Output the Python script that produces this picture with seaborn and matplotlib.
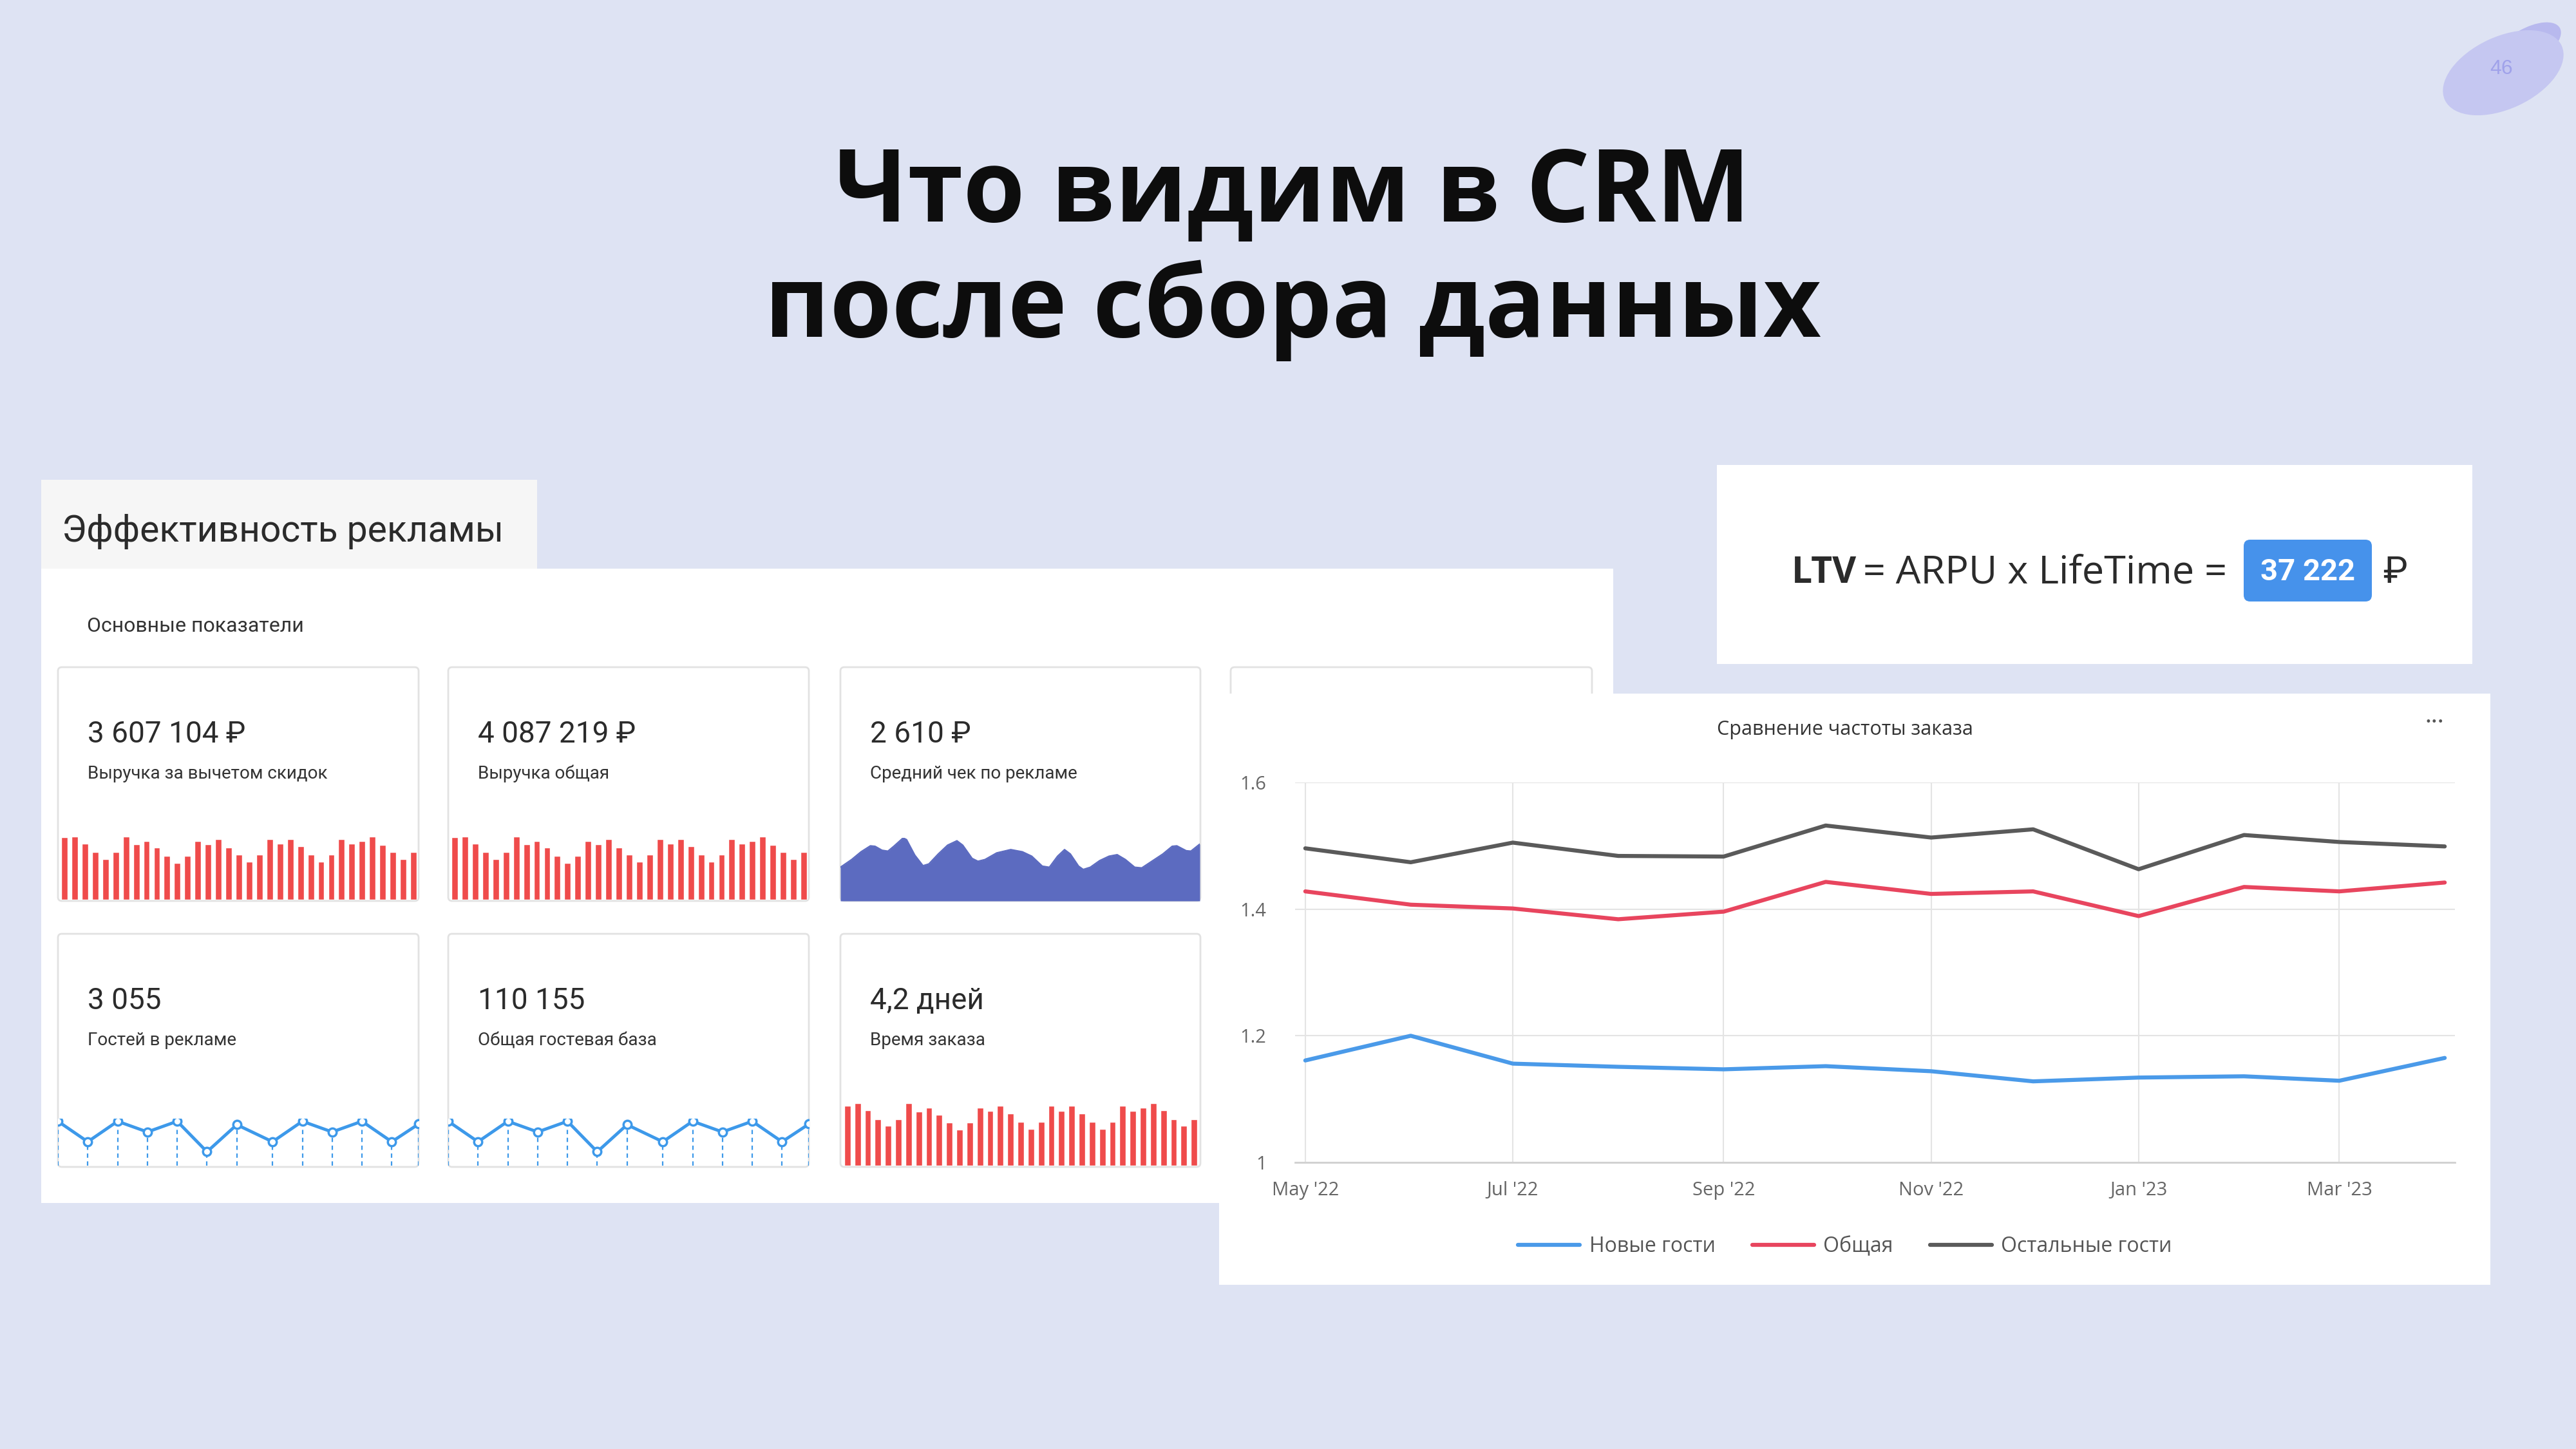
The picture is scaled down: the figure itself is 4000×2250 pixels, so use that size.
import numpy as np
import pandas as pd
import matplotlib
matplotlib.use('Agg')
import matplotlib.pyplot as plt
import matplotlib.dates as mdates
from matplotlib.patches import Rectangle, FancyBboxPatch, Ellipse
import seaborn as sns

# ============================================================
# DATA
# ============================================================

# Order frequency comparison (May '22 - Apr '23)
months = pd.date_range('2022-05-01', periods=12, freq='MS')
new_guests = [1.161, 1.200, 1.156, 1.151, 1.147, 1.152, 1.144, 1.128, 1.134, 1.136, 1.129, 1.165]
overall = [1.428, 1.407, 1.401, 1.384, 1.396, 1.443, 1.424, 1.428, 1.389, 1.435, 1.428, 1.442]
other_guests = [1.496, 1.474, 1.505, 1.484, 1.483, 1.532, 1.513, 1.526, 1.463, 1.517, 1.506, 1.499]
series_names = ['Новые гости', 'Общая', 'Остальные гости']
y_ticks = [1.0, 1.2, 1.4, 1.6]
y_tick_labels = ['1', '1.2', '1.4', '1.6']

# KPI cards
kpi_values = ['3 607 104 ₽', '4 087 219 ₽', '2 610 ₽', '3 055', '110 155', '4,2 дней']
kpi_labels = ['Выручка за вычетом скидок', 'Выручка общая', 'Средний чек по рекламе',
              'Гостей в рекламе', 'Общая гостевая база', 'Время заказа']

rev_net_bars = [222, 225, 200, 170, 145, 170, 225, 197, 210, 185, 155, 130, 155, 210, 197, 215, 185, 160,
                135, 160, 215, 200, 215, 190, 160, 135, 160, 215, 200, 210, 225, 195, 170, 145, 170]
rev_total_bars = [222, 225, 200, 170, 145, 170, 225, 197, 210, 185, 155, 130, 155, 210, 197, 215, 185, 160,
                  135, 160, 215, 200, 215, 190, 160, 135, 160, 215, 200, 210, 225, 195, 170, 145, 170]
avg_check_x = [12, 60, 100, 140, 160, 190, 215, 240, 280, 295, 330, 365, 390, 430, 470, 510, 535, 575, 600,
               630, 680, 740, 790, 830, 875, 905, 940, 970, 995, 1030, 1050, 1080, 1120, 1160, 1195, 1230,
               1270, 1300, 1340, 1390, 1430, 1450, 1490, 1510, 1548]
avg_check_y = [153, 188, 223, 250, 248, 230, 226, 248, 286, 278, 208, 160, 168, 213, 253, 273, 253, 193, 180,
               188, 218, 233, 223, 203, 158, 153, 203, 233, 213, 158, 143, 153, 183, 203, 210, 188,
               153, 150, 178, 213, 248, 250, 228, 226, 258]
guests_x = [0, 1, 2, 3, 4, 5, 6, 7.2, 8.2, 9.2, 10.2, 11.2, 12.1]
guests_ad = [208, 112, 208, 158, 208, 65, 192, 112, 208, 158, 208, 112, 195]
guests_base = [208, 112, 208, 158, 208, 65, 192, 112, 208, 158, 208, 112, 195]
order_time_bars = [277, 290, 258, 215, 185, 215, 290, 252, 270, 237, 200, 167, 200, 270, 255, 277, 242, 202,
                   170, 202, 277, 255, 277, 242, 202, 170, 202, 277, 255, 270, 290, 258, 215, 185, 215]

ltv_value = '37 222'

# ============================================================
# STYLE
# ============================================================

sns.set_theme(style='white')
plt.rcParams['font.family'] = ['Roboto', 'DejaVu Sans']

BG = '#DEE3F3'
RED_BAR = '#EF4B4B'
AREA = '#5C6BC0'
SPARK = '#3D99EA'
C_NEW, C_ALL, C_OTHER = '#4A9AE9', '#E8455E', '#5A5A5A'
OPEN = ['Open Sans', 'DejaVu Sans']

W, H = 4000, 2250


def frac(x0, y0, x1, y1):
    return [x0 / W, 1 - y1 / H, (x1 - x0) / W, (y1 - y0) / H]


def canvas():
    a = fig.add_axes([0, 0, 1, 1])
    a.set_xlim(0, W)
    a.set_ylim(H, 0)
    a.axis('off')
    return a


fig = plt.figure(figsize=(40, 22.5), dpi=100, facecolor=BG)
bg = canvas()

# Title
bg.text(2007, 344, 'Что видим в CRM', ha='center', va='baseline', fontsize=112,
        fontweight='bold', family=OPEN, color='#0D0D0D')
bg.text(2007, 523, 'после сбора данных', ha='center', va='baseline', fontsize=112,
        fontweight='bold', family=OPEN, color='#0D0D0D')

# Page number blob
bg.add_patch(Ellipse((3925, 72), 115, 55, angle=-30, color='#B8B9EE', lw=0))
bg.add_patch(Ellipse((3887, 113), 200, 112, angle=-25, color='#C5C7F1', lw=0))
bg.text(3884, 107, '46', ha='center', va='center', fontsize=23,
        family=['Liberation Sans'], color='#A0A2EA')

# Left dashboard panel
bg.add_patch(Rectangle((64, 883), 2441, 985, color='white', lw=0))
bg.add_patch(Rectangle((64, 745), 770, 138, color='#F6F6F6', lw=0))
bg.text(96, 841, 'Эффективность рекламы', fontsize=41, color='#2B2B2B', va='baseline')
bg.text(135, 981, 'Основные показатели', fontsize=23, color='#333333', va='baseline')

card_cols = [(90, 650), (696, 1256), (1305, 1864), (1911, 2472)]
card_rows = [(1036, 1399), (1450, 1812)]
for r, (y0, y1) in enumerate(card_rows):
    for c, (x0, x1) in enumerate(card_cols):
        if r == 1 and c == 3:
            continue
        bg.add_patch(FancyBboxPatch((x0, y0), x1 - x0, y1 - y0,
                                    boxstyle='round,pad=0,rounding_size=6',
                                    fc='white', ec='#E2E2E2', lw=2))
        if c < 3:
            i = r * 3 + c
            base = [1153, 1567][r]
            bg.text(x0 + 46, base, kpi_values[i], fontsize=33, color='#2B2B2B', va='baseline')
            bg.text(x0 + 46, base + 56, kpi_labels[i], fontsize=20, color='#333333', va='baseline')

# Sparkline: revenue net
ax1 = fig.add_axes(frac(92, 1299, 650, 1397))
sns.barplot(x=list(range(len(rev_net_bars))), y=rev_net_bars, color=RED_BAR,
            saturation=1, width=0.62, ax=ax1)
ax1.set_xlim(-0.5, len(rev_net_bars) - 0.5)
ax1.set_ylim(0, max(rev_net_bars))
ax1.axis('off')

# Sparkline: revenue total
ax2 = fig.add_axes(frac(698, 1299, 1256, 1397))
sns.barplot(x=list(range(len(rev_total_bars))), y=rev_total_bars, color=RED_BAR,
            saturation=1, width=0.62, ax=ax2)
ax2.set_xlim(-0.5, len(rev_total_bars) - 0.5)
ax2.set_ylim(0, max(rev_total_bars))
ax2.axis('off')

# Area: average check
ax3 = fig.add_axes(frac(1305, 1301, 1863, 1399))
ax3.fill_between(avg_check_x, avg_check_y, color=AREA, lw=0)
sns.lineplot(x=avg_check_x, y=avg_check_y, color=AREA, lw=1.5, ax=ax3)
ax3.set_xlim(min(avg_check_x), max(avg_check_x))
ax3.set_ylim(0, max(avg_check_y))
ax3.axis('off')

# Sparklines: guests
for (x0, x1), vals in zip(card_cols[:2], [guests_ad, guests_base]):
    axg = fig.add_axes(frac(x0, 1737, x1, 1810))
    axg.vlines(guests_x, 0, vals, colors=SPARK, linestyles=(0, (3, 2.5)), lw=1.6)
    sns.lineplot(x=guests_x, y=vals, color=SPARK, lw=3.5, marker='o', markersize=9,
                 markerfacecolor='white', markeredgecolor=SPARK, markeredgewidth=2.5, ax=axg)
    axg.set_xlim(min(guests_x), max(guests_x))
    axg.set_ylim(0, max(vals) * 1.06)
    axg.axis('off')

# Sparkline: order time
ax6 = fig.add_axes(frac(1308, 1713, 1862, 1810))
sns.barplot(x=list(range(len(order_time_bars))), y=order_time_bars, color=RED_BAR,
            saturation=1, width=0.62, ax=ax6)
ax6.set_xlim(-0.5, len(order_time_bars) - 0.5)
ax6.set_ylim(0, max(order_time_bars))
ax6.axis('off')

# ============================================================
# FRONT PANELS: LTV box and order frequency chart
# ============================================================

fg = canvas()
fg.add_patch(Rectangle((2666, 722), 1173, 309, color='white', lw=0))
fg.add_patch(Rectangle((1893, 1077), 1974, 918, color='white', lw=0))
fg.add_patch(FancyBboxPatch((3484, 838), 199, 96, boxstyle='round,pad=0,rounding_size=10',
                            fc='#4692EB', ec='none'))
fg.text(2782, 905, 'LTV', fontsize=41, fontweight='bold', color='#2B2B2B', va='baseline', family=OPEN)
fg.text(2893, 905, '= ARPU x LifeTime =', fontsize=44, color='#2B2B2B', va='baseline',
        ha='left', family=OPEN)
fg.text(3583, 888, ltv_value, fontsize=34, fontweight='bold', color='white', ha='center', va='center')
fg.text(3719, 905, '₽', fontsize=41, color='#2B2B2B', ha='center', va='baseline')

fg.text(2865, 1133, 'Сравнение частоты заказа', fontsize=22, color='#333333',
        ha='center', va='center', family=OPEN)
fg.text(3780, 1121, '•••', fontsize=12, color='#555555', ha='center', va='center', family=['DejaVu Sans'])

ax = fig.add_axes(frac(2011, 1215, 3812, 1805))
df = pd.DataFrame({
    'month': np.tile(months, 3),
    'value': new_guests + overall + other_guests,
    'series': np.repeat(series_names, len(months)),
})
sns.lineplot(data=df, x='month', y='value', hue='series', hue_order=series_names,
             palette=[C_NEW, C_ALL, C_OTHER], lw=4.5, ax=ax, legend=False)
ax.set_ylim(1.0, 1.6)
ax.set_yticks(y_ticks)
ax.set_yticklabels(y_tick_labels)
ax.set_xlim(pd.Timestamp('2022-04-28'), pd.Timestamp('2023-04-04'))
ax.xaxis.set_major_locator(mdates.MonthLocator(bymonth=[1, 3, 5, 7, 9, 11]))
ax.xaxis.set_major_formatter(mdates.DateFormatter("%b '%y"))
ax.set_xlabel('')
ax.set_ylabel('')
ax.set_facecolor('none')
ax.grid(True, color='#E4E4E4', lw=1.5)
ax.set_axisbelow(True)
for s in ['top', 'right', 'left']:
    ax.spines[s].set_visible(False)
ax.spines['bottom'].set_color('#D0D0D0')
ax.spines['bottom'].set_linewidth(2)
ax.tick_params(axis='both', length=0, labelsize=21, labelcolor='#666666')
ax.tick_params(axis='y', pad=32)
ax.tick_params(axis='x', pad=21)
for lab in ax.get_xticklabels() + ax.get_yticklabels():
    lab.set_family(OPEN)

fig.legend(ax.get_lines()[:3], series_names, loc='center',
           bbox_to_anchor=(2865 / W, 1 - 1936 / H), ncol=3, frameon=False,
           prop={'family': OPEN, 'size': 23}, labelcolor='#555555',
           handlelength=3, handletextpad=0.45, columnspacing=1.8)

fig.savefig('out.png', dpi=100, facecolor=BG)
